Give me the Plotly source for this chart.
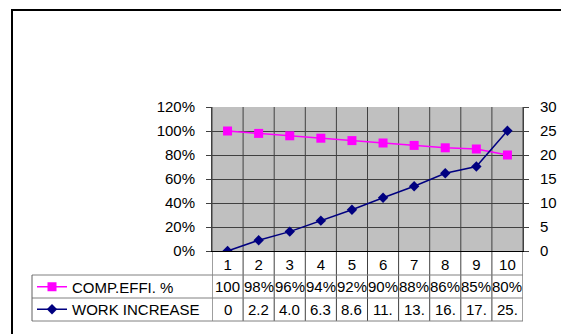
import plotly.graph_objects as go

# ---- data ----
categories = [1, 2, 3, 4, 5, 6, 7, 8, 9, 10]
comp_effi = [1.00, 0.98, 0.96, 0.94, 0.92, 0.90, 0.88, 0.86, 0.85, 0.80]
work_increase = [0, 2.24, 4.04, 6.32, 8.6, 11.1, 13.5, 16.2, 17.6, 25.04]
pct_ticks = [0, 20, 40, 60, 80, 100, 120]
work_ticks = [0, 5, 10, 15, 20, 25, 30]
series_names = ["COMP.EFFI. %", "WORK INCREASE"]

W, H = 561, 334
FONT = "Liberation Sans, Arial, sans-serif"
FS = 15


def px(x):
    return x / W


def py(y):
    return 1 - y / H


# layout geometry (pixels)
PLOT_L, PLOT_R, PLOT_T, PLOT_B = 212, 523, 107, 251
ROW1, ROW2, ROW3 = 275, 298, 321
LABEL_L = 32


def cell_text(s, width=3):
    # data-table cells only have room for a few characters
    return s[:width]


fig = go.Figure()

fig.add_trace(go.Scatter(
    x=categories, y=comp_effi, name=series_names[0], mode="lines+markers",
    line=dict(color="#FF00FF", width=1.5),
    marker=dict(symbol="square", size=9, color="#FF00FF"),
))
fig.add_trace(go.Scatter(
    x=categories, y=work_increase, name=series_names[1], mode="lines+markers",
    yaxis="y2",
    line=dict(color="#000080", width=1.5),
    marker=dict(symbol="diamond", size=8, color="#000080"),
))

shapes = []
# category boundaries through plot area and data table
for i in range(len(categories) + 1):
    xb = categories[0] - 0.5 + i
    shapes.append(dict(type="line", xref="x", yref="paper", x0=xb, x1=xb,
                       y0=py(ROW3), y1=py(PLOT_T),
                       line=dict(color="#404040", width=1), layer="below"))
# table row lines
for yr in (ROW1, ROW2, ROW3):
    shapes.append(dict(type="line", xref="paper", yref="paper",
                       x0=px(LABEL_L), x1=px(PLOT_R), y0=py(yr), y1=py(yr),
                       line=dict(color="#808080", width=1)))
shapes.append(dict(type="line", xref="paper", yref="paper",
                   x0=px(LABEL_L), x1=px(LABEL_L), y0=py(ROW1), y1=py(ROW3),
                   line=dict(color="#606060", width=1)))
# chart frame
shapes.append(dict(type="rect", xref="paper", yref="paper",
                   x0=px(12), x1=1.2, y0=-0.2, y1=py(10),
                   line=dict(color="black", width=2)))

annotations = []
row_centers = [(ROW1 + ROW2) / 2, (ROW2 + ROW3) / 2]
cell_font = dict(family=FONT, size=FS, color="black")
for c, v in zip(categories, comp_effi):
    annotations.append(dict(x=c, y=py(row_centers[0]), xref="x", yref="paper",
                            xanchor="center", yanchor="middle",
                            text=cell_text(f"{v:.0%}"), showarrow=False,
                            font=cell_font))
for c, v in zip(categories, work_increase):
    annotations.append(dict(x=c, y=py(row_centers[1]), xref="x", yref="paper",
                            xanchor="center", yanchor="middle",
                            text=cell_text(f"{v:g}"), showarrow=False,
                            font=cell_font))

fig.update_layout(
    width=W, height=H,
    margin=dict(l=0, r=0, t=0, b=0, autoexpand=False),
    paper_bgcolor="white",
    plot_bgcolor="#C0C0C0",
    font=dict(family=FONT, size=FS, color="black"),
    showlegend=True,
    legend=dict(x=px(LABEL_L), y=py(ROW1 - 4.5), xanchor="left", yanchor="top",
                bgcolor="rgba(0,0,0,0)", borderwidth=0, tracegroupgap=0,
                itemwidth=30, font=dict(family=FONT, size=FS, color="black")),
    xaxis=dict(domain=[px(PLOT_L), px(PLOT_R)], range=[0.5, 10.5],
               tickvals=categories, ticktext=[str(c) for c in categories],
               showgrid=False, zeroline=False, ticks="",
               showline=True, linecolor="black", linewidth=1,
               ticklabelstandoff=0),
    yaxis=dict(domain=[py(PLOT_B), py(PLOT_T)], range=[0, 1.2],
               tickvals=[t / 100 for t in pct_ticks],
               ticktext=[f"{t}%" for t in pct_ticks],
               showgrid=True, gridcolor="#404040", gridwidth=1,
               zeroline=False, showline=True, linecolor="#404040",
               ticks="outside", ticklen=5, tickcolor="#404040",
               ticklabelstandoff=8),
    yaxis2=dict(overlaying="y", side="right", range=[0, 30],
                tickvals=work_ticks, ticktext=[str(t) for t in work_ticks],
                showgrid=False, zeroline=False, showline=True,
                linecolor="#404040", ticks="outside", ticklen=5,
                tickcolor="#404040", ticklabelstandoff=8),
    shapes=shapes,
    annotations=annotations,
)

fig.write_html("out.html")
